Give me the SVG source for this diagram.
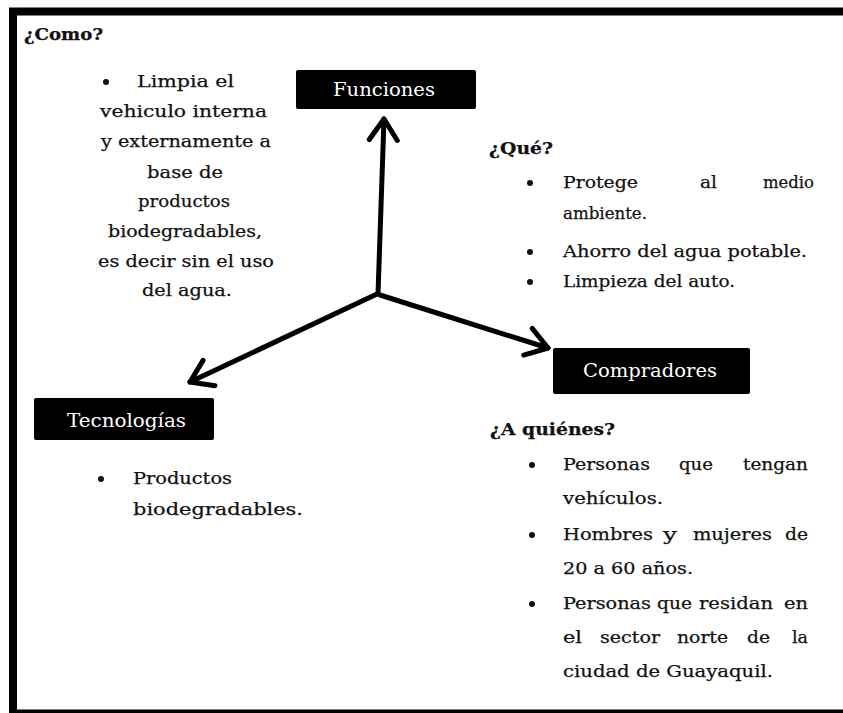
<svg xmlns="http://www.w3.org/2000/svg" width="843" height="713" viewBox="0 0 843 713">
<defs>
<style>
.t{font-family:"DejaVu Serif","Liberation Serif",serif;font-size:17px;fill:#111;stroke:#111;stroke-width:0.25}
.b{font-weight:bold;font-size:16px}
.l{font-family:"DejaVu Serif","Liberation Serif",serif;font-size:18px;fill:#fff}
.box{fill:#000}
.dot{fill:#111}
.con{stroke:#000;stroke-width:5;fill:none;stroke-linecap:round}
</style>
<marker id="ah" markerUnits="userSpaceOnUse" markerWidth="60" markerHeight="60" viewBox="-30 -30 60 60" refX="0" refY="0" orient="auto" overflow="visible">
<path d="M-21,-14 L0,0 L-21,14" fill="none" stroke="#000" stroke-width="5" stroke-linecap="round" stroke-linejoin="round"/>
</marker>
</defs>
<rect x="0" y="0" width="843" height="713" fill="#fff"/>
<rect x="13" y="11.5" width="840" height="702" fill="none" stroke="#000" stroke-width="8"/>

<g id="connectors">
<line class="con" x1="378" y1="294" x2="384" y2="119" marker-end="url(#ah)"/>
<line class="con" x1="380" y1="295" x2="548" y2="348" marker-end="url(#ah)"/>
<line class="con" x1="377" y1="294" x2="190" y2="382" marker-end="url(#ah)"/>
</g>

<g id="funciones">
<rect class="box" x="296" y="70" width="180" height="39" rx="2"/>
<text class="l" x="333" y="96" textLength="102" lengthAdjust="spacingAndGlyphs">Funciones</text>
</g>

<g id="compradores">
<rect class="box" x="553" y="348" width="197" height="46" rx="2"/>
<text class="l" x="583" y="377" textLength="134" lengthAdjust="spacingAndGlyphs">Compradores</text>
</g>

<g id="tecnologias">
<rect class="box" x="34" y="398" width="180" height="42" rx="2"/>
<text class="l" x="67" y="427" textLength="119" lengthAdjust="spacingAndGlyphs">Tecnologías</text>
</g>

<g id="como">
<text class="t b" x="24" y="40" textLength="79" lengthAdjust="spacingAndGlyphs">¿Como?</text>
<circle class="dot" cx="106" cy="82" r="3"/>
<text class="t" x="137" y="87" textLength="97" lengthAdjust="spacingAndGlyphs">Limpia el</text>
<text class="t" x="100" y="117" textLength="167" lengthAdjust="spacingAndGlyphs">vehiculo interna</text>
<text class="t" x="101" y="147" textLength="170" lengthAdjust="spacingAndGlyphs">y externamente a</text>
<text class="t" x="147" y="178" textLength="76" lengthAdjust="spacingAndGlyphs">base de</text>
<text class="t" x="138" y="207" textLength="92" lengthAdjust="spacingAndGlyphs">productos</text>
<text class="t" x="108" y="237" textLength="154" lengthAdjust="spacingAndGlyphs">biodegradables,</text>
<text class="t" x="98" y="267" textLength="176" lengthAdjust="spacingAndGlyphs">es decir sin el uso</text>
<text class="t" x="142" y="296" textLength="90" lengthAdjust="spacingAndGlyphs">del agua.</text>
</g>

<g id="que">
<text class="t b" x="489" y="154" textLength="64" lengthAdjust="spacingAndGlyphs">¿Qué?</text>
<circle class="dot" cx="530" cy="183" r="3"/>
<text class="t" x="563" y="188" textLength="75" lengthAdjust="spacingAndGlyphs">Protege</text>
<text class="t" x="700" y="188" textLength="17" lengthAdjust="spacingAndGlyphs">al</text>
<text class="t" x="763" y="188" textLength="51" lengthAdjust="spacingAndGlyphs">medio</text>
<text class="t" x="563" y="219" textLength="84" lengthAdjust="spacingAndGlyphs">ambiente.</text>
<circle class="dot" cx="530" cy="252" r="3"/>
<text class="t" x="563" y="257" textLength="244" lengthAdjust="spacingAndGlyphs">Ahorro del agua potable.</text>
<circle class="dot" cx="530" cy="282" r="3"/>
<text class="t" x="563" y="287" textLength="172" lengthAdjust="spacingAndGlyphs">Limpieza del auto.</text>
</g>

<g id="quienes">
<text class="t b" x="490" y="435" textLength="125" lengthAdjust="spacingAndGlyphs">¿A quiénes?</text>
<circle class="dot" cx="532" cy="465" r="3"/>
<text class="t" x="563" y="470" textLength="87" lengthAdjust="spacingAndGlyphs">Personas</text>
<text class="t" x="679" y="470" textLength="34" lengthAdjust="spacingAndGlyphs">que</text>
<text class="t" x="743" y="470" textLength="65" lengthAdjust="spacingAndGlyphs">tengan</text>
<text class="t" x="563" y="504" textLength="100" lengthAdjust="spacingAndGlyphs">vehículos.</text>
<circle class="dot" cx="532" cy="535" r="3"/>
<text class="t" x="563" y="540" textLength="90" lengthAdjust="spacingAndGlyphs">Hombres</text>
<text class="t" x="663" y="540" textLength="14" lengthAdjust="spacingAndGlyphs">y</text>
<text class="t" x="693" y="540" textLength="79" lengthAdjust="spacingAndGlyphs">mujeres</text>
<text class="t" x="785" y="540" textLength="23" lengthAdjust="spacingAndGlyphs">de</text>
<text class="t" x="563" y="574" textLength="130" lengthAdjust="spacingAndGlyphs">20 a 60 años.</text>
<circle class="dot" cx="532" cy="604" r="3"/>
<text class="t" x="563" y="609" textLength="88" lengthAdjust="spacingAndGlyphs">Personas</text>
<text class="t" x="657" y="609" textLength="35" lengthAdjust="spacingAndGlyphs">que</text>
<text class="t" x="699" y="609" textLength="74" lengthAdjust="spacingAndGlyphs">residan</text>
<text class="t" x="784" y="609" textLength="24" lengthAdjust="spacingAndGlyphs">en</text>
<text class="t" x="563" y="643" textLength="19" lengthAdjust="spacingAndGlyphs">el</text>
<text class="t" x="600" y="643" textLength="60" lengthAdjust="spacingAndGlyphs">sector</text>
<text class="t" x="677" y="643" textLength="51" lengthAdjust="spacingAndGlyphs">norte</text>
<text class="t" x="747" y="643" textLength="23" lengthAdjust="spacingAndGlyphs">de</text>
<text class="t" x="792" y="643" textLength="16" lengthAdjust="spacingAndGlyphs">la</text>
<text class="t" x="563" y="677" textLength="210" lengthAdjust="spacingAndGlyphs">ciudad de Guayaquil.</text>
</g>

<g id="tecnologias-text">
<circle class="dot" cx="101" cy="479" r="3"/>
<text class="t" x="133" y="484" textLength="99" lengthAdjust="spacingAndGlyphs">Productos</text>
<text class="t" x="133" y="515" textLength="170" lengthAdjust="spacingAndGlyphs">biodegradables.</text>
</g>
</svg>
